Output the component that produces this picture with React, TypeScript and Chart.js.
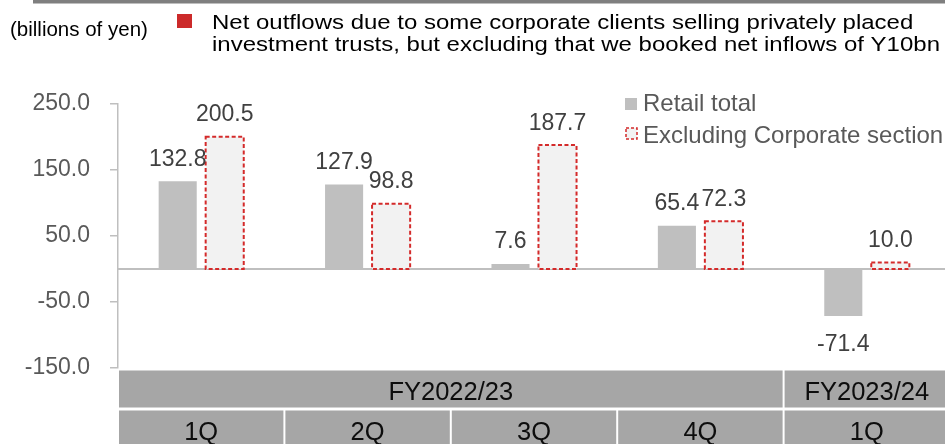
import React, { useEffect, useRef } from 'react';
import { Chart, registerables } from 'chart.js';

Chart.register(...registerables);

// ---- data ----
const quarterLabels = ['1Q', '2Q', '3Q', '4Q', '1Q'];
const fiscalYearLabels = ['FY2022/23', 'FY2023/24'];
const fiscalYearSpans = [4, 1];
const retailTotal = [132.8, 127.9, 7.6, 65.4, -71.4];
const excludingCorporate = [200.5, 98.8, 187.7, 72.3, 10.0];
const seriesNames = ['Retail total', 'Excluding Corporate section'];
const yTickValues = [-150, -50, 50, 150, 250];
const unitText = '(billions of yen)';
const noteLines = [
  'Net outflows due to some corporate clients selling privately placed',
  'investment trusts, but excluding that we booked net inflows of Y10bn',
];

// ---- styles ----
const FONT = '"Liberation Sans", Arial, Helvetica, sans-serif';
const GREY = '#bfbfbf';
const RED = '#d42a2a';
const PALE = '#f2f2f2';
const TABLE_FILL = '#a6a6a6';

export default function App() {
  const ref = useRef<HTMLCanvasElement>(null);

  useEffect(() => {
    document.body.style.margin = '0';
    document.body.style.overflow = 'hidden';
    const canvas = ref.current!;

    const overlay = {
      id: 'overlay',
      beforeDatasetsDraw(chart: any) {
        const { ctx, chartArea } = chart;
        const y0 = chart.scales.y.getPixelForValue(0);
        ctx.save();
        ctx.strokeStyle = GREY;
        ctx.lineWidth = 2;
        ctx.beginPath();
        ctx.moveTo(chartArea.left, y0);
        ctx.lineTo(chartArea.right, y0);
        ctx.stroke();
        ctx.restore();
      },
      afterDatasetsDraw(chart: any) {
        const { ctx } = chart;
        // dashed outline for second series
        const meta1 = chart.getDatasetMeta(1);
        ctx.save();
        ctx.strokeStyle = RED;
        ctx.lineWidth = 2;
        ctx.setLineDash([4, 2.5]);
        meta1.data.forEach((el: any) => {
          const { x, y, base, width } = el.getProps(['x', 'y', 'base', 'width'], true);
          const top = Math.min(y, base);
          const bottom = Math.max(y, base);
          ctx.strokeRect(x - width / 2, top, width, bottom - top);
        });
        ctx.restore();

        // data labels
        ctx.save();
        ctx.font = `23px ${FONT}`;
        ctx.fillStyle = '#404040';
        ctx.textAlign = 'center';
        ctx.textBaseline = 'alphabetic';
        [retailTotal, excludingCorporate].forEach((series, di) => {
          const meta = chart.getDatasetMeta(di);
          meta.data.forEach((el: any, i: number) => {
            const { x, y } = el.getProps(['x', 'y'], true);
            const v = series[i];
            const ty = v >= 0 ? y - 15.5 : y + 35;
            ctx.fillText(v.toFixed(1), x, ty);
          });
        });
        ctx.restore();
      },
      afterDraw(chart: any) {
        const { ctx, chartArea } = chart;
        const xs = chart.scales.x;
        ctx.save();

        // top rule
        ctx.fillStyle = '#7f7f7f';
        ctx.fillRect(33, 0, chart.width - 33, 3.5);

        // unit text
        ctx.fillStyle = '#000000';
        ctx.font = `20.5px ${FONT}`;
        ctx.textAlign = 'left';
        ctx.textBaseline = 'alphabetic';
        ctx.fillText(unitText, 10, 36);

        // red bullet
        ctx.fillStyle = '#cc2a2a';
        ctx.fillRect(177, 14, 15, 14);

        // note text (horizontally stretched)
        ctx.fillStyle = '#000000';
        const baselines = [29, 51];
        noteLines.forEach((line, i) => {
          ctx.save();
          ctx.translate(212, baselines[i]);
          ctx.scale(1.17, 1);
          ctx.fillText(line, 0, 0);
          ctx.restore();
        });

        // legend
        ctx.fillStyle = GREY;
        ctx.fillRect(625, 98, 12, 12);
        ctx.fillStyle = PALE;
        ctx.fillRect(626, 128, 11, 11);
        ctx.save();
        ctx.strokeStyle = RED;
        ctx.lineWidth = 1.5;
        ctx.setLineDash([3, 2]);
        ctx.strokeRect(626, 128, 11, 11);
        ctx.restore();
        ctx.fillStyle = '#595959';
        ctx.font = `24px ${FONT}`;
        ctx.fillText(seriesNames[0], 643, 111);
        ctx.fillText(seriesNames[1], 643, 143);

        // category table
        const n = quarterLabels.length;
        const cw = (chartArea.right - chartArea.left) / n;
        const row1Top = chartArea.bottom + 2.5;
        const row1H = 37;
        const row2Top = chartArea.bottom + 42.5;
        const row2H = chart.height - row2Top;
        ctx.font = `25.5px ${FONT}`;
        ctx.textAlign = 'center';
        let start = 0;
        fiscalYearLabels.forEach((lab, gi) => {
          const span = fiscalYearSpans[gi];
          const left = xs.getPixelForValue(start) - cw / 2;
          const right = xs.getPixelForValue(start + span - 1) + cw / 2;
          ctx.fillStyle = TABLE_FILL;
          ctx.fillRect(left + 1, row1Top, right - left - 2, row1H);
          ctx.fillStyle = '#0d0d0d';
          ctx.fillText(lab, (left + right) / 2, row1Top + 29.5);
          start += span;
        });
        quarterLabels.forEach((lab, i) => {
          const cx = xs.getPixelForValue(i);
          const left = cx - cw / 2;
          ctx.fillStyle = TABLE_FILL;
          ctx.fillRect(left + 1, row2Top, cw - 2, row2H);
          ctx.fillStyle = '#0d0d0d';
          ctx.fillText(lab, cx, row2Top + 29.5);
        });

        ctx.restore();
      },
    };

    const chart = new Chart(canvas, {
      type: 'bar',
      data: {
        labels: quarterLabels,
        datasets: [
          {
            label: seriesNames[0],
            data: retailTotal,
            backgroundColor: GREY,
            borderWidth: 0,
            categoryPercentage: 0.565,
            barPercentage: 0.81,
          },
          {
            label: seriesNames[1],
            data: excludingCorporate,
            backgroundColor: PALE,
            borderWidth: 0,
            categoryPercentage: 0.565,
            barPercentage: 0.81,
          },
        ],
      },
      options: {
        responsive: false,
        animation: false,
        devicePixelRatio: 1,
        layout: { padding: { top: 104, bottom: 76, left: 0, right: 0 } },
        plugins: {
          legend: { display: false },
          tooltip: { enabled: false },
          title: { display: false },
        },
        scales: {
          x: { display: false },
          y: {
            min: -150,
            max: 250,
            afterBuildTicks: (s: any) => {
              s.ticks = yTickValues.map((v) => ({ value: v }));
            },
            afterFit: (s: any) => {
              s.width = 118;
            },
            ticks: {
              callback: (v: any) => Number(v).toFixed(1),
              color: '#595959',
              font: { family: FONT, size: 23 },
              padding: 20,
            },
            grid: {
              drawOnChartArea: false,
              drawTicks: true,
              tickLength: 8,
              color: GREY,
              lineWidth: 1.5,
            },
            border: { display: true, color: GREY, width: 1.5 },
          },
        },
      },
      plugins: [overlay],
    } as any);

    return () => chart.destroy();
  }, []);

  return (
    <div style={{ position: 'fixed', left: 0, top: 0, width: 950, height: 444, background: '#ffffff' }}>
      <canvas ref={ref} width={950} height={444} style={{ display: 'block', width: 950, height: 444 }} />
    </div>
  );
}
